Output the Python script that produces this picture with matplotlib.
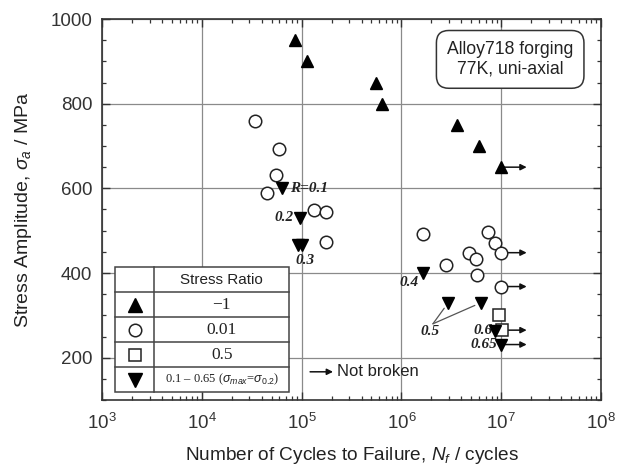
import matplotlib
matplotlib.use("Agg")
import matplotlib.pyplot as plt
from matplotlib.patches import Rectangle

plt.rcParams['font.family'] = ['Liberation Sans', 'DejaVu Sans']
plt.rcParams['mathtext.fontset'] = 'custom'
plt.rcParams['mathtext.rm'] = 'Liberation Sans'
plt.rcParams['mathtext.it'] = 'Liberation Sans:italic'

# R = -1 (fully reversed)
n_rm1 = [8.5e4, 1.14e5, 5.6e5, 6.4e5, 3.6e6, 6.0e6, 1.0e7]
s_rm1 = [950, 900, 850, 800, 750, 700, 650]

# R = 0.01
n_r001 = [3.4e4, 6.0e4, 5.5e4, 4.5e4, 1.34e5, 1.76e5, 1.76e5,
          1.66e6, 2.8e6, 4.8e6, 5.6e6, 5.7e6, 7.3e6, 8.7e6, 1.0e7, 1.0e7]
s_r001 = [760, 693, 631, 590, 548, 543, 473,
          492, 420, 448, 432, 395, 498, 472, 448, 368]

# R = 0.5
n_r05 = [9.4e6, 1.03e7]
s_r05 = [300, 265]

# R = 0.1 - 0.65 with sigma_max = sigma_0.2
n_rv = [6.3e4, 9.7e4, 9.2e4, 1.02e5, 1.63e6, 2.95e6, 6.3e6, 8.7e6, 1.0e7]
s_rv = [600, 531, 465, 465, 400, 330, 330, 264, 231]

# runouts (not broken)
n_run = [1.0e7, 1.0e7, 1.0e7, 1.03e7, 1.0e7]
s_run = [650, 448, 368, 265, 231]
n_run_end = 1.8e7

fig = plt.figure(figsize=(6.27, 4.68), dpi=100)
ax = fig.add_axes([102/627, 68/468, 499/627, 381/468])

ax.set_xscale('log')
ax.set_xlim(1e3, 1e8)
ax.set_ylim(100, 1000)
ax.set_yticks([200, 400, 600, 800, 1000])
ax.set_yticks(range(100, 1001, 50), minor=True)
ax.grid(True, which='major', color='#8a8a8a', lw=0.9)
ax.set_axisbelow(True)
ax.tick_params(which='both', direction='in', top=True, right=True,
               labelsize=13.5, colors='#333333')
ax.tick_params(which='major', length=6, width=1, pad=7)
ax.tick_params(axis='x', which='major', pad=9)
ax.tick_params(which='minor', length=3, width=0.9)
for sp in ax.spines.values():
    sp.set_color('#333333')
    sp.set_linewidth(1.2)

ax.set_xlabel('Number of Cycles to Failure, $N_f$ / cycles', fontsize=13.7,
              color='#222222', labelpad=9)
ax.set_ylabel('Stress Amplitude, $\\sigma_a$ / MPa', fontsize=14,
              color='#222222', labelpad=12)

# runout arrows
for n, s in zip(n_run, s_run):
    ax.annotate('', xy=(n_run_end, s), xytext=(n, s),
                arrowprops=dict(arrowstyle='-|>', color='#111111', lw=1.1,
                                shrinkA=0, shrinkB=0, mutation_scale=9))

ax.plot(n_rm1, s_rm1, '^', ms=8, color='black', zorder=3)
ax.plot(n_r001, s_r001, 'o', ms=9, mfc='white', mec='#222222', mew=1.1, zorder=3)
ax.plot(n_r05, s_r05, 's', ms=9, mfc='white', mec='#222222', mew=1.1, zorder=3)
ax.plot(n_rv, s_rv, 'v', ms=9, color='black', zorder=4)

# stress ratio labels next to the down triangles
lab = dict(fontsize=11, family='Liberation Serif', style='italic',
           weight='bold', color='#222222', textcoords='offset points')
ax.annotate('R=0.1', (n_rv[0], s_rv[0]), xytext=(6, 0), ha='left', va='center', **lab)
ax.annotate('0.2', (n_rv[1], s_rv[1]), xytext=(-5, 0), ha='right', va='center', **lab)
ax.annotate('0.3', (n_rv[2], s_rv[2]), xytext=(5, -11), ha='center', va='center', **lab)
ax.annotate('0.4', (n_rv[4], s_rv[4]), xytext=(-3, -7), ha='right', va='center', **lab)
ax.annotate('0.6', (n_rv[7], s_rv[7]), xytext=(-2, 0), ha='right', va='center', **lab)
ax.annotate('0.65', (n_rv[8], s_rv[8]), xytext=(-3, 0), ha='right', va='center', **lab)

# shared label for the two R=0.5 points
n_lab5, s_lab5 = 1.95e6, 262
ax.text(n_lab5, s_lab5, '0.5', ha='center', va='center', fontsize=11,
        family='Liberation Serif', style='italic', weight='bold', color='#222222')
for n, s in zip(n_rv[5:7], s_rv[5:7]):
    ax.annotate('', xy=(n, s), xytext=(2.07e6, 280),
                arrowprops=dict(arrowstyle='-', color='#555555', lw=0.9,
                                shrinkA=0, shrinkB=5))

# material box
ax.text(0.818, 0.894, 'Alloy718 forging\n77K, uni-axial', transform=ax.transAxes,
        ha='center', va='center', fontsize=12.7, color='#222222', linespacing=1.2,
        bbox=dict(boxstyle='round,pad=0.6,rounding_size=0.7', fc='white',
                  ec='#333333', lw=1.1))

# legend table
x0, x1, xs = 0.026, 0.375, 0.105
y0, y1 = 0.021, 0.349
rows = 5
rh = (y1 - y0) / rows
ax.add_patch(Rectangle((x0, y0), x1 - x0, y1 - y0, transform=ax.transAxes,
                       fc='white', ec='#444444', lw=1.1, zorder=5))
ax.plot([xs, xs], [y0, y1], transform=ax.transAxes, color='#444444', lw=1.1, zorder=6)
for i in range(1, rows):
    ax.plot([x0, x1], [y0 + i * rh] * 2, transform=ax.transAxes,
            color='#444444', lw=1.1, zorder=6)

cx = (xs + x1) / 2
mx = (x0 + xs) / 2
yc = [y1 - (i + 0.5) * rh for i in range(rows)]
ax.text(cx, yc[0], 'Stress Ratio', transform=ax.transAxes, ha='center',
        va='center', fontsize=11, color='#222222', zorder=7)
ratio_text = ['\u22121', '0.01', '0.5']
for t, y in zip(ratio_text, yc[1:4]):
    ax.text(cx, y, t, transform=ax.transAxes, ha='center', va='center',
            fontsize=12.5, family='Liberation Serif', color='#222222', zorder=7)
ax.text(cx, yc[4], '0.1 \u2013 0.65 ($\\sigma_{max}$=$\\sigma_{0.2}$)',
        transform=ax.transAxes, ha='center', va='center', fontsize=9,
        family='Liberation Serif', color='#222222', zorder=7)

ax.plot(mx, yc[1], '^', ms=10, color='black', transform=ax.transAxes, zorder=7)
ax.plot(mx, yc[2], 'o', ms=9, mfc='white', mec='#222222', mew=1.1,
        transform=ax.transAxes, zorder=7)
ax.plot(mx, yc[3], 's', ms=9, mfc='white', mec='#222222', mew=1.1,
        transform=ax.transAxes, zorder=7)
ax.plot(mx, yc[4], 'v', ms=10, color='black', transform=ax.transAxes, zorder=7)

# runout key
ax.annotate('', xy=(0.463, 0.074), xytext=(0.417, 0.074), xycoords='axes fraction',
            arrowprops=dict(arrowstyle='-|>', color='#111111', lw=1.1,
                            shrinkA=0, shrinkB=0, mutation_scale=9))
ax.text(0.47, 0.074, 'Not broken', transform=ax.transAxes, ha='left',
        va='center', fontsize=12, color='#222222')

fig.savefig('out.png', dpi=100, facecolor='white')
